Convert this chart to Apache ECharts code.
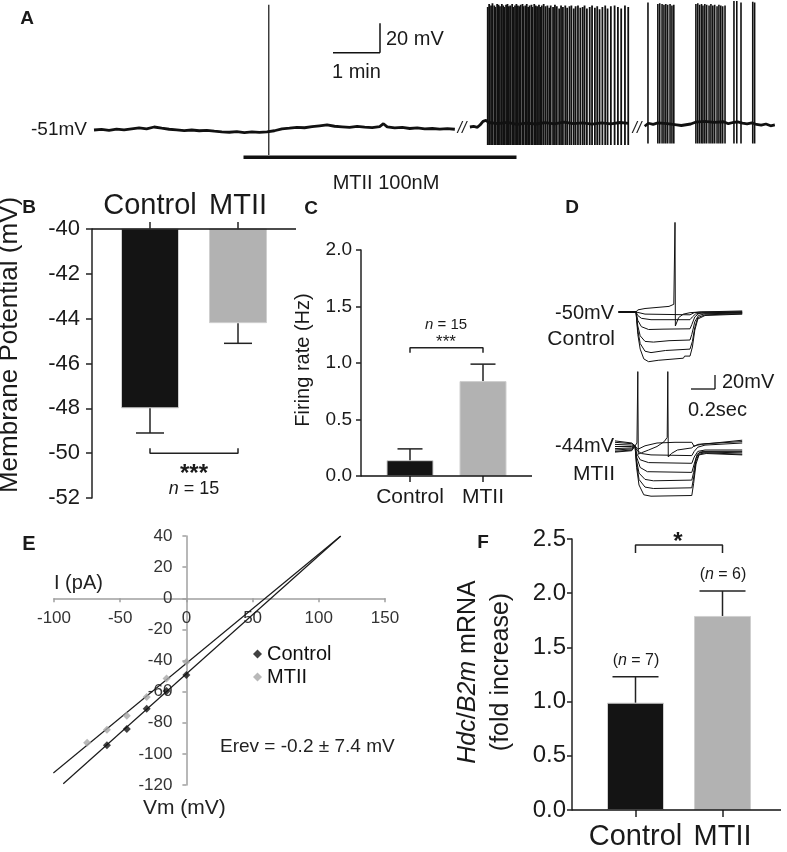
<!DOCTYPE html>
<html><head><meta charset="utf-8">
<script src="https://cdn.jsdelivr.net/npm/echarts@6/dist/echarts.min.js"></script>
<style>html,body{margin:0;padding:0;background:#fff}#c{width:787px;height:852px}</style>
</head><body><div id="c"></div>
<script>
const FONT = "'Liberation Sans', Arial, Helvetica, sans-serif";
const categories = ['Control', 'MTII'];

// ---------- Panel A : current-clamp trace (time in min, Vm in mV) ----------
const baseA1 = [[0.00,-51.0],[0.16,-50.6],[0.32,-51.2],[0.48,-50.4],[0.64,-50.9],[0.80,-50.2],[0.96,-49.6],[1.12,-50.3],[1.28,-49.0],[1.44,-49.8],[1.60,-50.5],[1.76,-50.9],[1.92,-51.4],[2.08,-51.0],[2.24,-51.5],[2.40,-51.2],[2.56,-51.8],[2.72,-52.2],[2.88,-52.5],[3.04,-52.1],[3.20,-52.7],[3.36,-52.3],[3.52,-52.6],[3.68,-52.2],[3.84,-51.5],[4.00,-50.2],[4.16,-49.8],[4.32,-49.2],[4.48,-49.5],[4.64,-48.8],[4.80,-48.2],[4.96,-47.6],[5.12,-48.5],[5.28,-48.9],[5.44,-49.3],[5.60,-48.6],[5.76,-49.1],[5.92,-49.4],[6.08,-48.7],[6.16,-46.8],[6.24,-48.9],[6.40,-49.6],[6.56,-49.2],[6.72,-50.0],[6.88,-49.6],[7.04,-50.3],[7.20,-50.0],[7.36,-50.4],[7.52,-50.1],[7.68,-50.5]];
const baseA2 = [[8.00,-49.0],[8.08,-48.6],[8.16,-49.2],[8.22,-47.5],[8.28,-45.2],[8.34,-44.6],[8.40,-46.0],[8.60,-46.8],[8.80,-45.9],[9.00,-47.2],[9.20,-46.4],[9.40,-47.0],[9.60,-46.1],[9.80,-46.9],[10.00,-45.8],[10.20,-46.7],[10.40,-46.2],[10.60,-47.1],[10.80,-46.3],[11.00,-46.9],[11.20,-46.0],[11.38,-46.6]];
const baseA3 = [[11.72,-48.5],[11.80,-46.5],[11.90,-47.2],[12.00,-46.3],[12.20,-46.8],[12.40,-47.6],[12.50,-48.0],[12.60,-47.5],[12.70,-47.0],[12.80,-45.8],[13.00,-45.3],[13.20,-45.9],[13.40,-45.5],[13.50,-46.8],[13.60,-46.0],[13.70,-45.6],[13.80,-46.4],[13.90,-46.9],[14.00,-46.2],[14.10,-47.3],[14.20,-47.8],[14.30,-47.0],[14.40,-48.2],[14.49,-47.6]];
// spikes: [time, peak]
const spikesA1 = [[3.72, 32.5]];
const troughA1 = -67.7;
const spikesA2 = [[8.38,31],[8.41,33],[8.45,32],[8.48,33.5],[8.52,32],[8.54,31],[8.58,33],[8.61,32.5],[8.64,31.5],[8.68,33],[8.71,32],[8.73,31],[8.77,32.5],[8.80,33],[8.83,31.5],[8.86,32],[8.90,33],[8.92,31],[8.96,32],[8.99,33],[9.02,32],[9.05,31.5],[9.08,32.5],[9.12,33],[9.14,31.5],[9.18,32],[9.21,33],[9.24,31],[9.27,32],[9.31,32.5],[9.33,31],[9.37,33],[9.40,32],[9.43,31.5],[9.47,32.5],[9.50,31],[9.53,32],[9.57,33],[9.61,31.5],[9.65,32],[9.69,30.5],[9.72,32],[9.77,31],[9.81,32.5],[9.85,31.5],[9.90,30],[9.94,32],[9.98,31],[10.03,32],[10.07,30.5],[10.12,31.5],[10.16,32],[10.21,30],[10.25,31.5],[10.30,32],[10.35,30.5],[10.40,31],[10.44,32],[10.49,30],[10.55,31],[10.60,32],[10.66,30.5],[10.71,31.5],[10.76,29.5],[10.82,31],[10.88,32],[10.93,30],[11.00,31.5],[11.08,32],[11.15,31],[11.22,30],[11.30,32],[11.37,31]];
const troughA2 = -61;
const spikesA3 = [[11.79,34],[12.00,33],[12.04,33.5],[12.09,33],[12.13,32.5],[12.17,33],[12.21,32.5],[12.26,33],[12.30,32],[12.34,32.5],[12.81,33],[12.85,33.5],[12.89,32.5],[12.93,33],[12.96,32],[13.00,33],[13.04,32.5],[13.09,32],[13.13,33],[13.17,32],[13.21,32.5],[13.26,31.5],[13.30,32.5],[13.34,32],[13.38,31.5],[13.43,32],[13.62,35],[13.68,35],[13.77,34],[14.02,34.5],[14.06,34]];
const troughA3 = -60;

// ---------- Panel B : membrane potential (mV) ----------
const membraneMean = [-48.0, -44.2];
const membraneSEM = [1.1, 0.9];

// ---------- Panel C : firing rate (Hz) ----------
const firingMean = [0.14, 0.84];
const firingSEM = [0.10, 0.15];

// ---------- Panel D : step responses (time s, Vm mV) ----------
const dControl = [
  [[0.03,-50],[0.175,-50],[0.19,-47],[0.25,-45],[0.35,-43.5],[0.45,-42],[0.49,-39],[0.5,78],[0.503,-70],[0.53,-58],[0.57,-53],[0.625,-51],[0.7,-50],[1.06,-48.5]],
  [[0.03,-50],[0.175,-50],[0.25,-53],[0.625,-54],[0.66,-51],[0.72,-50],[1.06,-49.5]],
  [[0.03,-50],[0.175,-50],[0.19,-55],[0.22,-59],[0.3,-61],[0.625,-61],[0.645,-57],[0.67,-53],[0.72,-51],[1.06,-50.5]],
  [[0.03,-50],[0.175,-50],[0.19,-62],[0.22,-71],[0.28,-75],[0.4,-74.5],[0.625,-74],[0.64,-68],[0.665,-57],[0.7,-52],[0.75,-51.5],[1.06,-51]],
  [[0.03,-50],[0.175,-50],[0.19,-70],[0.21,-84],[0.25,-92],[0.32,-93],[0.45,-91],[0.625,-90],[0.64,-82],[0.665,-64],[0.695,-55],[0.75,-52.5],[1.06,-51.5]],
  [[0.03,-50],[0.175,-50],[0.19,-76],[0.21,-95],[0.25,-106],[0.3,-108],[0.42,-105],[0.625,-103],[0.645,-92],[0.665,-72],[0.69,-58],[0.75,-54],[1.06,-52.5]],
  [[0.03,-50],[0.175,-50],[0.19,-82],[0.21,-103],[0.24,-117],[0.28,-121],[0.36,-119],[0.5,-117],[0.57,-116],[0.58,-113],[0.625,-113],[0.645,-100],[0.665,-76],[0.69,-60],[0.75,-55],[1.06,-53]]
];
const dMTII = [
  [[0,-39],[0.14,-41],[0.167,-44],[0.183,-40],[0.19,62],[0.194,-56],[0.22,-54],[0.28,-50],[0.35,-45],[0.41,-38],[0.435,-32],[0.44,62],[0.444,-60],[0.47,-55],[0.52,-50],[0.6,-48],[0.64,-47],[0.66,-44],[0.72,-42],[1.06,-36]],
  [[0,-42],[0.14,-43],[0.167,-44],[0.19,-49],[0.25,-44],[0.35,-40],[0.5,-39],[0.64,-39],[0.66,-45],[0.69,-42],[0.75,-41],[1.06,-38]],
  [[0,-45],[0.14,-45],[0.167,-44],[0.18,-50],[0.22,-55],[0.3,-57],[0.64,-58],[0.66,-52],[0.69,-46],[0.75,-43],[1.06,-40]],
  [[0,-37],[0.14,-40],[0.167,-44],[0.18,-55],[0.21,-64],[0.28,-68],[0.64,-69],[0.66,-60],[0.69,-52],[0.75,-50],[1.06,-50]],
  [[0,-48],[0.14,-47],[0.167,-44],[0.18,-60],[0.21,-75],[0.27,-81],[0.64,-82],[0.66,-70],[0.685,-56],[0.72,-52],[1.06,-52]],
  [[0,-50],[0.14,-48.5],[0.167,-44],[0.18,-65],[0.2,-83],[0.25,-92],[0.32,-94],[0.64,-93],[0.655,-82],[0.675,-62],[0.7,-54],[0.75,-53],[1.06,-54]],
  [[0,-52],[0.14,-50],[0.167,-44],[0.18,-70],[0.2,-92],[0.25,-103],[0.32,-105],[0.64,-104],[0.655,-90],[0.675,-66],[0.7,-56],[0.75,-54],[1.06,-56]],
  [[0,-53],[0.14,-51],[0.167,-44],[0.18,-75],[0.2,-100],[0.24,-114],[0.3,-116],[0.64,-115],[0.655,-98],[0.675,-70],[0.7,-57],[0.76,-55],[1.06,-57]]
];

// ---------- Panel E : I-V relation ----------
const ivVmControl = [-60, -45, -30, -15, 0];
const ivIControl = [-94.5, -84, -71, -59.6, -49.3];
const ivVmMTII = [-75, -60, -45, -30, -15, 0];
const ivIMTII = [-92.8, -84.5, -75.5, -63.5, -51.6, -41];
const fitControl = [[-93, -119.2], [116.6, 40]];
const fitMTII = [[-100.5, -112.3], [116.6, 40]];
const ivXTicks = [-100, 150, 50];   // min, max, step
const ivYTicks = [-120, 40, 20];

// ---------- Panel F : Hdc/B2m mRNA ----------
const mrnaMean = [0.99, 1.79];
const mrnaSEM = [0.24, 0.23];

// ================= chart =================
const chart = echarts.init(document.getElementById('c'));
const TXT = '#1a1a1a';
const barColors = ['#141414', '#b2b2b2'];

const axisLineBlack = {show: true, lineStyle: {color: '#222', width: 1.5}};
const tickBlack = (len) => ({show: true, length: len, lineStyle: {color: '#222', width: 1.5}});

function barSeries(xi, means, width) {
  return {type: 'bar', name: 'bar' + xi, xAxisIndex: xi, yAxisIndex: xi, barWidth: width,
    data: means.map((m, i) => ({value: m, itemStyle: {color: barColors[i], borderColor: '#cfcfcf', borderWidth: 1}})),
    clip: true, z: 2};
}
function errSeries(xi, means, sems, dir, cap) {
  return {type: 'custom', xAxisIndex: xi, yAxisIndex: xi, z: 3,
    data: means.map((m, i) => [i, m, m + dir * sems[i]]),
    encode: {x: 0, y: [1, 2]},
    renderItem: (p, api) => {
      const a = api.coord([api.value(0), api.value(1)]);
      const b = api.coord([api.value(0), api.value(2)]);
      return {type: 'group', children: [
        {type: 'line', shape: {x1: a[0], y1: a[1], x2: b[0], y2: b[1]}, style: {stroke: '#222', lineWidth: 1.5}},
        {type: 'line', shape: {x1: b[0] - cap / 2, y1: b[1], x2: b[0] + cap / 2, y2: b[1]}, style: {stroke: '#222', lineWidth: 1.5}}
      ]};
    }};
}
function bracketSeries(xi, yLeg, yBar) {
  return {type: 'line', name: 'br' + xi, xAxisIndex: xi, yAxisIndex: xi, symbol: 'none', clip: false,
    data: [[0, yLeg], [0, yBar], [1, yBar], [1, yLeg]],
    lineStyle: {color: '#222', width: 1.5}, z: 3};
}
function spikeSeries(spikes, trough, w) {
  return {type: 'custom', xAxisIndex: 0, yAxisIndex: 0, z: 2,
    data: spikes.map(s => [s[0], s[1], trough]),
    encode: {x: 0, y: [1, 2]},
    renderItem: (p, api) => {
      const a = api.coord([api.value(0), api.value(2)]);
      const b = api.coord([api.value(0), api.value(1)]);
      return {type: 'line', shape: {x1: a[0], y1: a[1], x2: b[0], y2: b[1]}, style: {stroke: '#111', lineWidth: w}};
    }};
}
function traceSeries(data, gi, w) {
  return {type: 'line', xAxisIndex: gi, yAxisIndex: gi, data: data, symbol: 'none', silent: true,
    lineStyle: {color: '#111', width: w}, z: 2};
}

const series = [];
// Panel A
[baseA1, baseA2, baseA3].forEach(b => series.push(traceSeries(b, 0, 2.8)));
series.push(spikeSeries(spikesA1, troughA1, 1.2));
series.push(spikeSeries(spikesA2, troughA2, 1.8));
series.push(spikeSeries(spikesA3, troughA3, 1.6));
// Panel B
series.push(barSeries(1, membraneMean, 58));
series.push(errSeries(1, membraneMean, membraneSEM, -1, 28));
series.push(bracketSeries(1, -49.78, -50));
// Panel C
series.push(barSeries(2, firingMean, 47));
series.push(errSeries(2, firingMean, firingSEM, 1, 25));
series.push(bracketSeries(2, 1.09, 1.135));
// Panel D
dControl.forEach(t => series.push(traceSeries(t, 3, 1)));
dMTII.forEach(t => series.push(traceSeries(t, 4, 1)));
// Panel E
series.push({type: 'line', name: 'fitC', xAxisIndex: 5, yAxisIndex: 5, data: fitControl, symbol: 'none', lineStyle: {color: '#1a1a1a', width: 1.2}, z: 2});
series.push({type: 'line', name: 'fitM', xAxisIndex: 5, yAxisIndex: 5, data: fitMTII, symbol: 'none', lineStyle: {color: '#1a1a1a', width: 1.2}, z: 2});
series.push({type: 'scatter', name: 'Control', xAxisIndex: 5, yAxisIndex: 5, symbol: 'diamond', symbolSize: 8,
  data: ivVmControl.map((v, i) => [v, ivIControl[i]]), itemStyle: {color: '#111'}, z: 4});
series.push({type: 'scatter', name: 'MTII', xAxisIndex: 5, yAxisIndex: 5, symbol: 'diamond', symbolSize: 8,
  data: ivVmMTII.map((v, i) => [v, ivIMTII[i]]), itemStyle: {color: '#a8a8a8'}, z: 4});
// Panel F
series.push(barSeries(6, mrnaMean, 57));
series.push(errSeries(6, mrnaMean, mrnaSEM, 1, 46));
series.push(bracketSeries(6, 2.37, 2.445));

// graphics helpers
function T(x, y, text, size, o) {
  o = o || {};
  return {type: 'text', x: x, y: y, rotation: o.rot || 0, z: 10, silent: true,
    style: {text: text, fontSize: size, fontFamily: FONT, fontWeight: o.bold ? 'bold' : 'normal',
      fontStyle: o.italic ? 'italic' : 'normal',
      fill: o.color || TXT, align: o.align || 'center', verticalAlign: 'middle',
      rich: {i: {fontStyle: 'italic', fontSize: size, fontFamily: FONT, fill: o.color || TXT}}}};
}
function L(x1, y1, x2, y2, w) {
  return {type: 'line', z: 10, silent: true, shape: {x1: x1, y1: y1, x2: x2, y2: y2}, style: {stroke: '#111', lineWidth: w || 1.5}};
}
const graphics = [
  // A
  T(27, 19, 'A', 19, {bold: true}),
  T(87, 130, '-51mV', 19, {align: 'right'}),
  L(333, 52.7, 380, 52.7), L(380, 23.3, 380, 52.7),
  T(386, 39, '20 mV', 20, {align: 'left'}),
  T(332, 72, '1 min', 20, {align: 'left'}),
  L(243.5, 157.3, 516.5, 157.3, 3.5),
  T(386, 183, 'MTII 100nM', 20),
  T(462, 129, '//', 16, {italic: true}), T(637, 129, '//', 16, {italic: true}),
  // B
  T(29, 208, 'B', 19, {bold: true}),
  T(10, 345, 'Membrane Potential (mV)', 26, {rot: Math.PI / 2}),
  L(92, 229, 296, 229),
  T(194, 474, '***', 24, {bold: true}),
  T(194, 489, '{i|n} = 15', 18),
  // C
  T(311, 209, 'C', 19, {bold: true}),
  T(303, 360, 'Firing rate (Hz)', 20, {rot: Math.PI / 2}),
  L(361, 476, 532, 476),
  T(446, 325, '{i|n} = 15', 15),
  T(446, 342, '***', 17),
  // D
  T(572, 208, 'D', 19, {bold: true}),
  T(614, 313, '-50mV', 20, {align: 'right'}),
  T(615, 339, 'Control', 21, {align: 'right'}),
  T(614, 446, '-44mV', 20, {align: 'right'}),
  T(615, 474, 'MTII', 21, {align: 'right'}),
  L(691, 389, 715, 389, 1.3), L(715, 375, 715, 389, 1.3),
  T(722, 382, '20mV', 20, {align: 'left'}),
  T(688, 410, '0.2sec', 20, {align: 'left'}),
  // E
  T(29, 544, 'E', 20, {bold: true}),
  T(54, 583, 'I (pA)', 20, {align: 'left', color: '#222'}),
  T(143, 808, 'Vm (mV)', 21, {align: 'left', color: '#222'}),
  T(220, 747, 'Erev = -0.2 \u00b1 7.4 mV', 19, {align: 'left', color: '#222'}),
  // F
  T(483, 543, 'F', 19, {bold: true}),
  T(468, 672, '{i|Hdc}/{i|B2m} mRNA', 25, {rot: Math.PI / 2}),
  T(501, 672, '(fold increase)', 25, {rot: Math.PI / 2}),
  L(572, 810, 781, 810),
  T(678, 542, '*', 24, {bold: true}),
  T(636, 661, '({i|n} = 7)', 16),
  T(723, 575, '({i|n} = 6)', 16)
];

const hidden = {show: false};
// panel E grid: zero lines placed through the axis offsets
const gE = {left: 54, top: 536, width: 331, height: 249};
const eZeroX = gE.left + (0 - ivXTicks[0]) / (ivXTicks[1] - ivXTicks[0]) * gE.width;
const eZeroY = gE.top + (ivYTicks[1] - 0) / (ivYTicks[1] - ivYTicks[0]) * gE.height;
const option = {
  animation: false,
  backgroundColor: '#fff',
  textStyle: {fontFamily: FONT},
  grid: [
    {left: 94, top: 1, width: 686, height: 157.5},
    {left: 106, top: 229, width: 176, height: 269},
    {left: 373.5, top: 250, width: 146, height: 226},
    {left: 615, top: 200, width: 132, height: 171.5},
    {left: 615, top: 359, width: 132, height: 147},
    gE,
    {left: 592, top: 539, width: 174, height: 271}
  ],
  xAxis: [
    {gridIndex: 0, type: 'value', min: 0, max: 14.6, show: false},
    {gridIndex: 1, type: 'category', position: 'top', data: categories, axisLine: {show: false},
      axisTick: Object.assign(tickBlack(7), {alignWithLabel: true}),
      axisLabel: {fontSize: 29, color: TXT, margin: 9, fontFamily: FONT, interval: 0, hideOverlap: false}},
    {gridIndex: 2, type: 'category', data: categories, axisLine: {show: false},
      axisTick: Object.assign(tickBlack(6), {alignWithLabel: true}),
      axisLabel: {fontSize: 21, color: TXT, margin: 11, fontFamily: FONT, interval: 0, hideOverlap: false}},
    {gridIndex: 3, type: 'value', min: 0, max: 1.1, show: false},
    {gridIndex: 4, type: 'value', min: 0, max: 1.1, show: false},
    {gridIndex: 5, type: 'value', min: ivXTicks[0], max: ivXTicks[1], interval: ivXTicks[2],
      position: 'bottom', offset: -(gE.top + gE.height - eZeroY),
      axisLine: {show: true, onZero: false, lineStyle: {color: '#a0a0a0', width: 1.5}},
      axisTick: {show: true, length: 4, lineStyle: {color: '#a0a0a0', width: 1.5}},
      axisLabel: {fontSize: 17, color: '#333', margin: 12, fontFamily: FONT}, splitLine: hidden},
    {gridIndex: 6, type: 'category', data: categories, axisLine: {show: false},
      axisTick: Object.assign(tickBlack(7), {alignWithLabel: true}),
      axisLabel: {fontSize: 29, color: TXT, margin: 12, fontFamily: FONT, interval: 0, hideOverlap: false}}
  ],
  yAxis: [
    {gridIndex: 0, type: 'value', min: -70, max: 35, show: false},
    {gridIndex: 1, type: 'value', min: -52, max: -40, interval: 2, offset: 14,
      axisLine: axisLineBlack, axisTick: tickBlack(6),
      axisLabel: {fontSize: 22, color: TXT, margin: 12, fontFamily: FONT}, splitLine: hidden},
    {gridIndex: 2, type: 'value', min: 0, max: 2, interval: 0.5, offset: 12.5,
      axisLine: axisLineBlack, axisTick: tickBlack(5),
      axisLabel: {fontSize: 19, color: TXT, margin: 9, fontFamily: FONT, formatter: v => v.toFixed(1)}, splitLine: hidden},
    {gridIndex: 3, type: 'value', min: -135, max: 110, show: false},
    {gridIndex: 4, type: 'value', min: -130, max: 80, show: false},
    {gridIndex: 5, type: 'value', min: ivYTicks[0], max: ivYTicks[1], interval: ivYTicks[2],
      position: 'left', offset: -(eZeroX - gE.left),
      axisLine: {show: true, onZero: false, lineStyle: {color: '#a0a0a0', width: 1.5}},
      axisTick: {show: true, length: 4, lineStyle: {color: '#a0a0a0', width: 1.5}},
      axisLabel: {fontSize: 17, color: '#333', margin: 14, fontFamily: FONT}, splitLine: hidden},
    {gridIndex: 6, type: 'value', min: 0, max: 2.5, interval: 0.5, offset: 20,
      axisLine: axisLineBlack, axisTick: tickBlack(5),
      axisLabel: {fontSize: 24, color: TXT, margin: 6, fontFamily: FONT, formatter: v => v.toFixed(1)}, splitLine: hidden}
  ],
  legend: {data: ['Control', 'MTII'], orient: 'vertical', left: 253, top: 644, padding: 0,
    icon: 'diamond', itemWidth: 9, itemHeight: 9, itemGap: 3, selectedMode: false,
    textStyle: {fontSize: 20, color: '#111', fontFamily: FONT}},
  series: series,
  graphic: graphics
};
chart.setOption(option);
</script></body></html>
